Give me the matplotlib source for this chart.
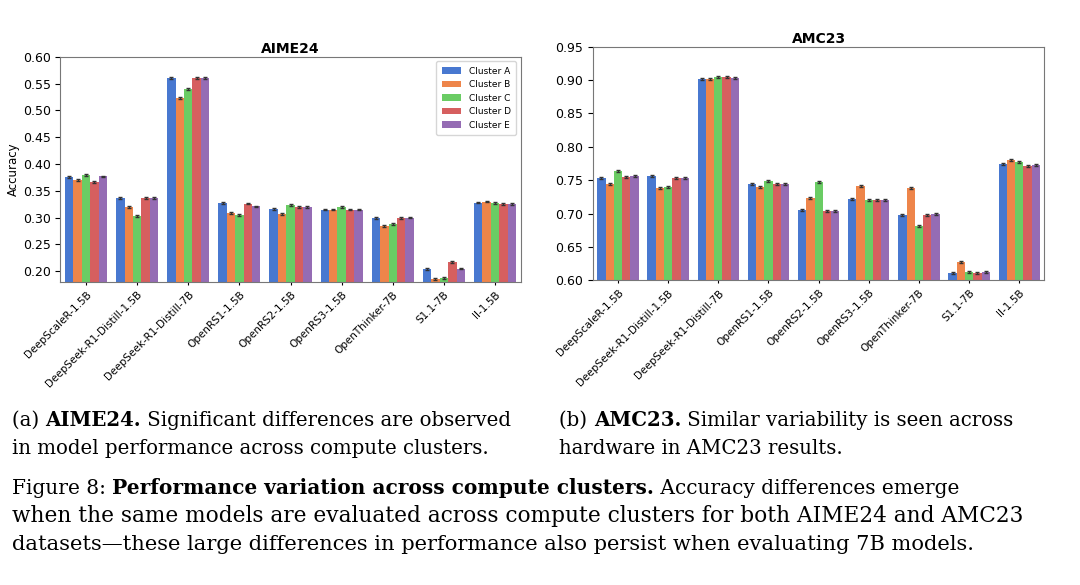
import matplotlib
matplotlib.use("Agg")
import matplotlib.pyplot as plt
import numpy as np

models = ["DeepScaleR-1.5B", "DeepSeek-R1-Distill-1.5B", "DeepSeek-R1-Distill-7B",
          "OpenRS1-1.5B", "OpenRS2-1.5B", "OpenRS3-1.5B", "OpenThinker-7B", "S1.1-7B", "II-1.5B"]
clusters = ["Cluster A", "Cluster B", "Cluster C", "Cluster D", "Cluster E"]

aime = {
    "Cluster A": [0.376, 0.337, 0.560, 0.327, 0.316, 0.315, 0.299, 0.204, 0.328],
    "Cluster B": [0.370, 0.320, 0.523, 0.309, 0.307, 0.315, 0.284, 0.185, 0.330],
    "Cluster C": [0.380, 0.303, 0.540, 0.305, 0.323, 0.320, 0.288, 0.187, 0.327],
    "Cluster D": [0.366, 0.337, 0.560, 0.326, 0.320, 0.315, 0.299, 0.217, 0.325],
    "Cluster E": [0.377, 0.337, 0.560, 0.321, 0.320, 0.315, 0.300, 0.205, 0.325],
}
amc = {
    "Cluster A": [0.754, 0.757, 0.902, 0.744, 0.706, 0.722, 0.698, 0.611, 0.774],
    "Cluster B": [0.745, 0.739, 0.901, 0.740, 0.723, 0.742, 0.738, 0.627, 0.780],
    "Cluster C": [0.764, 0.740, 0.905, 0.749, 0.747, 0.720, 0.681, 0.613, 0.777],
    "Cluster D": [0.755, 0.754, 0.905, 0.744, 0.704, 0.721, 0.698, 0.611, 0.772],
    "Cluster E": [0.757, 0.754, 0.903, 0.745, 0.704, 0.721, 0.699, 0.612, 0.773],
}
colors = ["#4878d0", "#ee854a", "#6acc64", "#d65f5f", "#956cb4"]

fig = plt.figure(figsize=(10.8, 5.85), dpi=100)
ax1 = fig.add_axes([0.056, 0.518, 0.426, 0.385])
ax2 = fig.add_axes([0.549, 0.521, 0.418, 0.399])


def draw(ax, data, title, ylim, yticks, legend):
    x = np.arange(len(models))
    w = 0.165
    for i, (c, col) in enumerate(zip(clusters, colors)):
        ax.bar(x + (i - 2) * w, data[c], w, color=col, label=c,
               yerr=0.0015, error_kw=dict(ecolor="#333333", lw=0.8, capsize=1.2))
    ax.set_ylim(*ylim)
    ax.set_yticks(yticks)
    ax.set_xlim(-0.5, len(models) - 0.5)
    ax.set_xticks(x)
    ax.set_xticklabels(models, rotation=45, ha="right", rotation_mode="anchor", fontsize=7.5)
    ax.tick_params(axis="y", labelsize=9)
    ax.tick_params(axis="x", length=2)
    ax.set_title(title, fontsize=10, fontweight="bold", pad=3)
    for s in ax.spines.values():
        s.set_color("#777777")
    if legend:
        ax.legend(fontsize=6.5, loc="upper right", handlelength=2.2, borderpad=0.6)


draw(ax1, aime, "AIME24", (0.18, 0.60), np.arange(0.20, 0.601, 0.05), True)
ax1.set_ylabel("Accuracy", fontsize=8.5, labelpad=2)
draw(ax2, amc, "AMC23", (0.60, 0.95), np.arange(0.60, 0.951, 0.05), False)

serif = "DejaVu Serif"
fig.canvas.draw()
r = fig.canvas.get_renderer()


def runs(x, y, parts, size):
    for txt, bold in parts:
        t = fig.text(x, y, txt, fontsize=size, family=serif,
                     fontweight="bold" if bold else "normal", va="baseline")
        bb = t.get_window_extent(r)
        x += bb.width / fig.bbox.width


sub, cap = 14.2, 15.6
runs(0.011, 0.272, [("(a) ", False), ("AIME24.", True), (" Significant differences are observed", False)], sub)
runs(0.011, 0.224, [("in model performance across compute clusters.", False)], sub)
runs(0.518, 0.272, [("(b) ", False), ("AMC23.", True), (" Similar variability is seen across", False)], sub)
runs(0.518, 0.224, [("hardware in AMC23 results.", False)], sub)
runs(0.011, 0.155, [("Figure 8: ", False), ("Performance variation across compute clusters.", True),
                    (" Accuracy differences emerge", False)], cap * 0.93)
runs(0.011, 0.107, [("when the same models are evaluated across compute clusters for both AIME24 and AMC23", False)], cap)
runs(0.011, 0.059, [("datasets\u2014these large differences in performance also persist when evaluating 7B models.", False)], cap * 0.97)

fig.savefig("out.png", dpi=100)
